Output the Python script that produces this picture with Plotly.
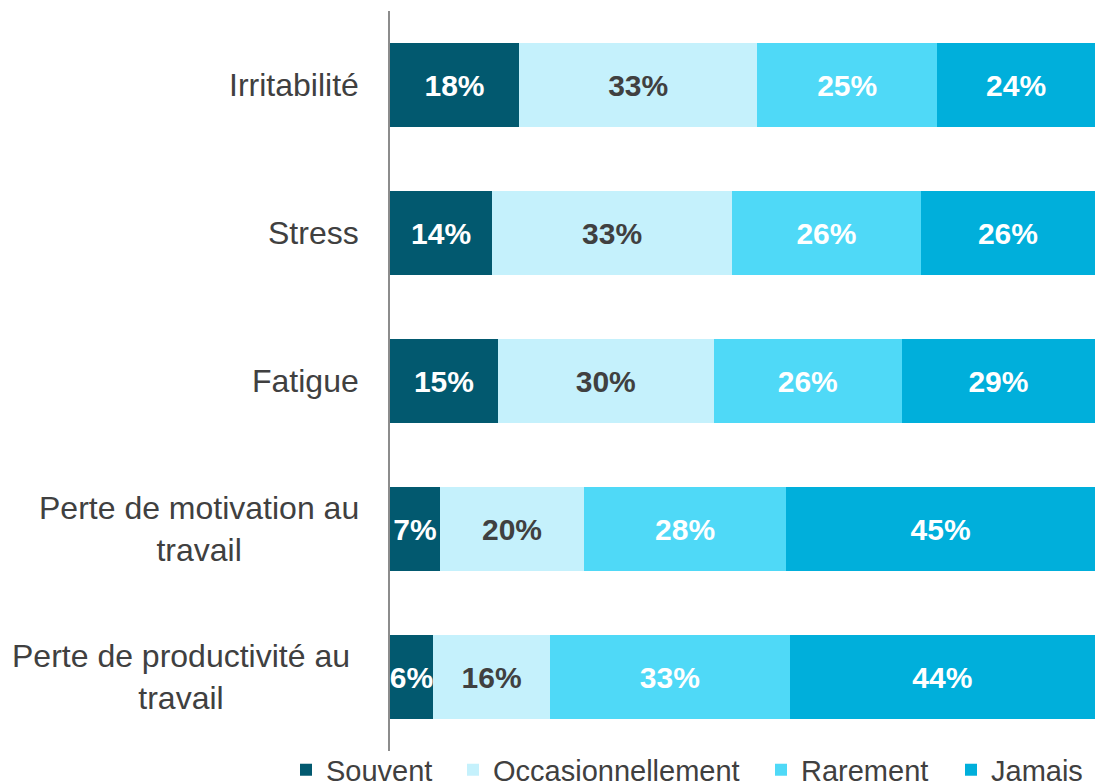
import plotly.graph_objects as go

categories = ["Irritabilité", "Stress", "Fatigue", "Perte de motivation au<br>travail", "Perte de productivité au<br>travail"]
series_names = ["Souvent", "Occasionnellement", "Rarement", "Jamais"]
souvent = [18.3, 14.5, 15.3, 7.1, 6.1]
occasionnellement = [33.8, 34.0, 30.6, 20.4, 16.6]
rarement = [25.5, 26.8, 26.7, 28.7, 34.0]
jamais = [22.4, 24.7, 27.4, 43.8, 43.3]
labels_souvent = ["18%", "14%", "15%", "7%", "6%"]
labels_occasionnellement = ["33%", "33%", "30%", "20%", "16%"]
labels_rarement = ["25%", "26%", "26%", "28%", "33%"]
labels_jamais = ["24%", "26%", "29%", "45%", "44%"]

colors = ["#02596f", "#c5f1fc", "#4fd9f7", "#00afdb"]
text_colors = ["white", "#404040", "white", "white"]
values = [souvent, occasionnellement, rarement, jamais]
labels = [labels_souvent, labels_occasionnellement, labels_rarement, labels_jamais]

FONT = "Liberation Sans, Arial, sans-serif"
legend_ids = ["legend", "legend2", "legend3", "legend4"]
legend_left_px = [286, 453, 761, 951]

fig = go.Figure()
for name, vals, labs, col, tcol, lid in zip(series_names, values, labels, colors, text_colors, legend_ids):
    fig.add_trace(go.Bar(
        y=categories, x=vals, name=name, orientation="h", legend=lid,
        marker=dict(color=col, line=dict(width=0)),
        text=labs, textposition="inside", insidetextanchor="middle",
        constraintext="none", textangle=0,
        textfont=dict(family=FONT, size=30, color=tcol, weight="bold"),
        hoverinfo="skip",
    ))

annotations = []
label_shift = [-29, -29, -29, -29, -38]
for cat, sh in zip(categories, label_shift):
    annotations.append(dict(
        x=0, xref="paper", y=cat, yref="y", text=cat, showarrow=False,
        xanchor="right", align="center", xshift=sh,
        font=dict(family=FONT, size=32, color="#404040"),
    ))

legend_layout = {}
for lid, lx in zip(legend_ids, legend_left_px):
    legend_layout[lid] = dict(
        orientation="h", xref="container", x=lx / 1095, xanchor="left",
        yref="container", y=0.018, yanchor="middle",
        bgcolor="rgba(0,0,0,0)",
        font=dict(family=FONT, size=29, color="#404040"),
        itemsizing="constant", itemwidth=30,
    )

fig.update_layout(
    autosize=False,
    barmode="stack", bargap=0.43,
    width=1095, height=784,
    margin=dict(l=390, r=0, t=11, b=33, autoexpand=False),
    paper_bgcolor="white", plot_bgcolor="white",
    font=dict(family=FONT, size=30, color="#404040"),
    xaxis=dict(range=[0, 100], visible=False, fixedrange=True),
    yaxis=dict(autorange="reversed", showticklabels=False, ticks="",
               showline=True, linecolor="#8c8c8c", linewidth=2,
               showgrid=False, zeroline=False, fixedrange=True),
    annotations=annotations,
    showlegend=True,
    **legend_layout,
)

fig.write_html(
    "out.html",
    config={"displayModeBar": False, "responsive": False},
    post_script="document.body.style.margin='0';document.body.style.padding='0';",
)
